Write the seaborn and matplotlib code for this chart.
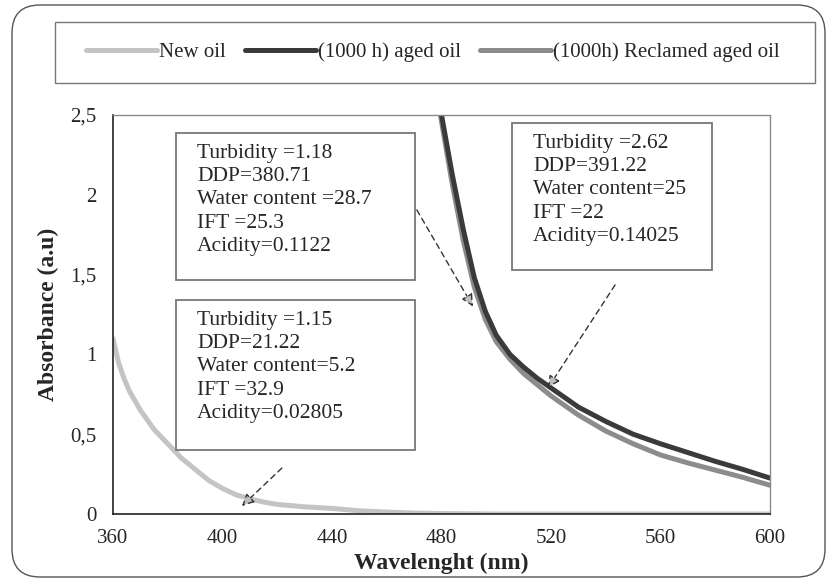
import numpy as np
import pandas as pd
import matplotlib
matplotlib.use("Agg")
import matplotlib.pyplot as plt
import seaborn as sns
from matplotlib.patches import Rectangle, FancyBboxPatch
from matplotlib.lines import Line2D

# -----------------------------
# DATA
# -----------------------------
new_wl = [360, 362, 364, 366, 370, 375, 380, 385, 390, 395, 400, 405, 410, 415,
          420, 430, 440, 450, 460, 470, 480, 500, 520, 540, 560, 580, 600]
new_abs = [1.10, 0.95, 0.85, 0.77, 0.65, 0.53, 0.44, 0.35, 0.28, 0.21, 0.16, 0.12,
           0.095, 0.075, 0.06, 0.045, 0.035, 0.02, 0.012, 0.006, 0.003, 0.0, 0.0,
           0.0, 0.0, 0.0, 0.0]

aged_wl = [478, 480, 484, 488, 492, 496, 500, 505, 510, 515, 520, 525, 530, 540,
           550, 560, 570, 580, 590, 600]
aged_abs = [2.72, 2.50, 2.12, 1.78, 1.48, 1.27, 1.12, 1.00, 0.92, 0.85, 0.79, 0.73,
            0.67, 0.58, 0.50, 0.44, 0.385, 0.33, 0.28, 0.225]

recl_wl = [478, 480, 484, 488, 492, 496, 500, 505, 510, 515, 520, 525, 530, 540,
           550, 560, 570, 580, 590, 600]
recl_abs = [2.68, 2.46, 2.06, 1.71, 1.42, 1.22, 1.08, 0.97, 0.88, 0.81, 0.74, 0.68,
            0.62, 0.52, 0.44, 0.37, 0.32, 0.275, 0.23, 0.18]

series_names = ["New oil", "(1000 h) aged oil", "(1000h) Reclamed aged oil"]
series_colors = ["#c4c4c4", "#3a3a3a", "#8c8c8c"]

x_ticks = [360, 400, 440, 480, 520, 560, 600]
y_ticks = [0, 0.5, 1, 1.5, 2, 2.5]
y_tick_labels = ["0", "0,5", "1", "1,5", "2", "2,5"]

box_texts = [
    "Turbidity =1.18\nDDP=380.71\nWater content =28.7\nIFT =25.3\nAcidity=0.1122",
    "Turbidity =1.15\nDDP=21.22\nWater content=5.2\nIFT =32.9\nAcidity=0.02805",
    "Turbidity =2.62\nDDP=391.22\nWater content=25\nIFT =22\nAcidity=0.14025",
]

df = pd.concat([
    pd.DataFrame({"wl": new_wl, "abs": new_abs, "oil": series_names[0]}),
    pd.DataFrame({"wl": aged_wl, "abs": aged_abs, "oil": series_names[1]}),
    pd.DataFrame({"wl": recl_wl, "abs": recl_abs, "oil": series_names[2]}),
])

# -----------------------------
# STYLE
# -----------------------------
sns.set_style("white")
plt.rcParams["font.family"] = ["Liberation Serif", "DejaVu Serif"]

W, H = 831, 581
fig = plt.figure(figsize=(W / 100, H / 100), dpi=100)


def fx(px):
    return px / W


def fy(py):
    return 1 - py / H


# outer rounded frame
frame = FancyBboxPatch((0.12, 0.04), 8.13, 5.72,
                       boxstyle="round,pad=0,rounding_size=0.28",
                       transform=fig.dpi_scale_trans, fill=False,
                       ec="#555555", lw=1.0)
fig.patches.append(frame)

ax = fig.add_axes([fx(113), fy(514), fx(770) - fx(113), fy(115) - fy(514)])

# draw order: new, reclaimed, aged (aged on top)
for name, col in [(series_names[0], series_colors[0]),
                  (series_names[2], series_colors[2]),
                  (series_names[1], series_colors[1])]:
    sns.lineplot(data=df[df["oil"] == name], x="wl", y="abs", ax=ax,
                 color=col, lw=3.6, legend=False, sort=True)

ax.set_xlim(360, 600)
ax.set_ylim(0, 2.5)
ax.set_xticks(x_ticks)
ax.set_yticks(y_ticks)
ax.set_yticklabels(y_tick_labels)
ax.tick_params(axis="both", direction="inout", length=6, width=1,
               labelsize=15, color="#222222")
ax.tick_params(axis="y", pad=9)
ax.tick_params(axis="x", pad=8)

for s in ["left", "bottom"]:
    ax.spines[s].set_color("#222222")
    ax.spines[s].set_linewidth(1.2)
for s in ["top", "right"]:
    ax.spines[s].set_color("#8a8a8a")
    ax.spines[s].set_linewidth(1.0)
    ax.spines[s].set_linestyle((0, (1, 1)))

ax.set_xlabel("Wavelenght (nm)", fontsize=17, fontweight="bold", labelpad=3)
ax.set_ylabel("Absorbance (a.u)", fontsize=17, fontweight="bold", labelpad=8)

# -----------------------------
# INFO BOXES
# -----------------------------
boxes = [(176, 133, 415, 280), (176, 300, 415, 450), (512, 123, 712, 270)]
for (x0, y0, x1, y1), txt in zip(boxes, box_texts):
    r = Rectangle((fx(x0), fy(y1)), fx(x1) - fx(x0), fy(y0) - fy(y1),
                  transform=fig.transFigure, fill=True, fc="white",
                  ec="#777777", lw=1.3, zorder=5)
    fig.patches.append(r)
    fig.text(fx(x0 + 21), fy(y0 + 11), txt, ha="left", va="top",
             fontsize=15.5, linespacing=1.3, zorder=6)

# dashed arrows
arrows = [((471.0, 1.905), (491.5, 1.30)),
          ((543.4, 1.435), (518.9, 0.79)),
          ((421.7, 0.288), (407.1, 0.05))]
for start, end in arrows:
    ax.annotate("", xy=end, xytext=start,
                arrowprops=dict(arrowstyle="-|>", linestyle=(0, (4, 3)),
                                lw=1.0, ec="#333333", fc="#bdbdbd",
                                mutation_scale=18, shrinkA=0, shrinkB=0))

# -----------------------------
# LEGEND
# -----------------------------
leg_frame = Rectangle((fx(55), fy(83)), fx(815) - fx(55), fy(22) - fy(83),
                      transform=fig.transFigure, fill=False,
                      ec="#777777", lw=1.0)
fig.patches.append(leg_frame)

handles = [Line2D([], [], color=c, lw=3.6) for c in series_colors]
leg = fig.legend(handles, series_names, ncol=3, mode="expand",
                 bbox_to_anchor=(fx(78), fy(83), fx(788) - fx(78), fy(22) - fy(83)),
                 loc="center", fontsize=15, handlelength=3.4, handletextpad=0.1,
                 frameon=False, borderaxespad=0)

plt.savefig("out.png", dpi=100)
